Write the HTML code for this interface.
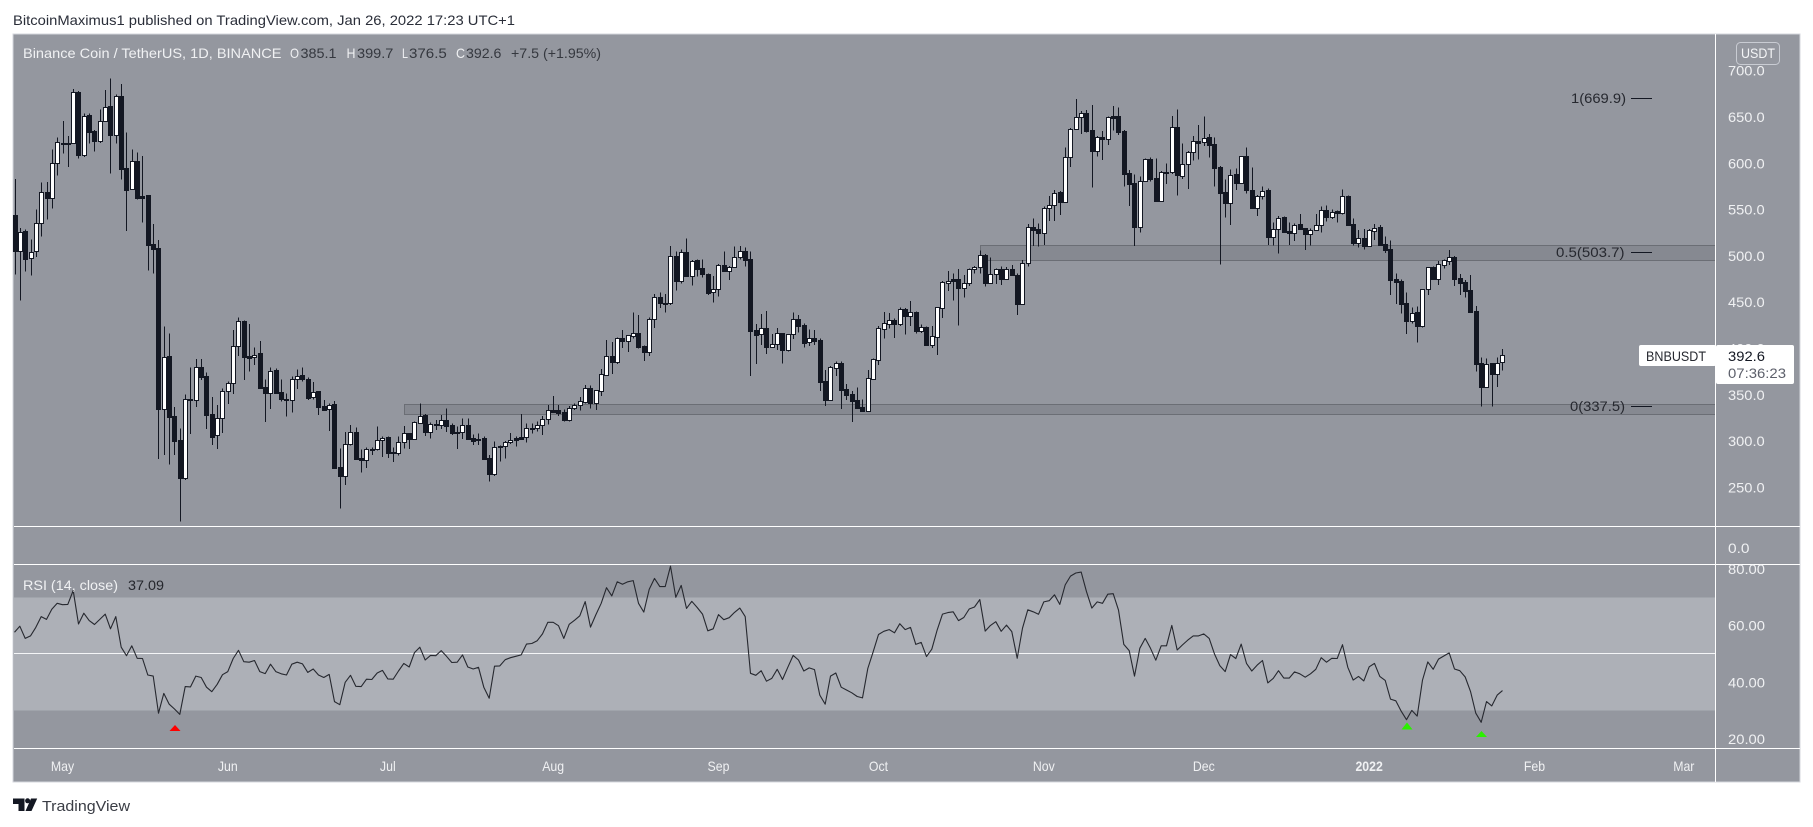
<!DOCTYPE html>
<html lang="en">
<head>
<meta charset="utf-8">
<title>BNBUSDT 1D chart with RSI</title>
<style>
html,body{margin:0;padding:0;background:#fff;width:1813px;height:827px;overflow:hidden}
svg{position:absolute;left:0;top:0;display:block}
text{font-family:"Liberation Sans",sans-serif;font-size:14px}
</style>
</head>
<body>
<svg id="chart" xmlns="http://www.w3.org/2000/svg" width="1813" height="827" viewBox="0 0 1813 827">
  <text x="13" y="25" fill="#2a2e39" textLength="502" lengthAdjust="spacingAndGlyphs">BitcoinMaximus1 published on TradingView.com, Jan 26, 2022 17:23 UTC+1</text>
  <rect x="13" y="34" width="1787" height="748" fill="#94979f" stroke="#d5d7de" stroke-width="1"/>
  <rect x="14" y="597.5" width="1702" height="113" fill="#adb0b7"/>
  <rect x="404.5" y="404.5" width="1311" height="10" fill="#868991" stroke="#6b6e75" stroke-width="1"/>
  <rect x="980.5" y="245.5" width="735" height="15" fill="#868991" stroke="#6b6e75" stroke-width="1"/>
  <g id="candles" shape-rendering="crispEdges"></g>
  <g id="grid-lines" shape-rendering="crispEdges">
    <line x1="14" x2="1716" y1="653.5" y2="653.5" stroke="#f4f5f7"/>
    <line x1="14" x2="1800" y1="526.5" y2="526.5" stroke="#fff"/>
    <line x1="14" x2="1800" y1="564.5" y2="564.5" stroke="#fff"/>
    <line x1="14" x2="1800" y1="748.5" y2="748.5" stroke="#fff"/>
    <line x1="1715.5" x2="1715.5" y1="34" y2="782" stroke="#fff"/>
  </g>
  <polyline id="rsi-line" fill="none" stroke="#26282f" stroke-width="1.1" stroke-linejoin="round"/>
  <g id="price-ticks"></g>
  <g id="rsi-ticks"></g>
  <g id="time-ticks"></g>

  <g>
    <text x="23" y="58" fill="#f0f1f3" textLength="258.5" lengthAdjust="spacingAndGlyphs">Binance Coin / TetherUS, 1D, BINANCE</text>
    <text x="290" y="58" fill="#f0f1f3" textLength="9" lengthAdjust="spacingAndGlyphs">O</text>
    <text x="300.5" y="58" fill="#35383f" textLength="36" lengthAdjust="spacingAndGlyphs">385.1</text>
    <text x="346.5" y="58" fill="#f0f1f3" textLength="9" lengthAdjust="spacingAndGlyphs">H</text>
    <text x="357" y="58" fill="#35383f" textLength="36.4" lengthAdjust="spacingAndGlyphs">399.7</text>
    <text x="402" y="58" fill="#f0f1f3" textLength="6" lengthAdjust="spacingAndGlyphs">L</text>
    <text x="409" y="58" fill="#35383f" textLength="37.8" lengthAdjust="spacingAndGlyphs">376.5</text>
    <text x="456" y="58" fill="#f0f1f3" textLength="9" lengthAdjust="spacingAndGlyphs">C</text>
    <text x="466" y="58" fill="#35383f" textLength="35.4" lengthAdjust="spacingAndGlyphs">392.6</text>
    <text x="511" y="58" fill="#35383f" textLength="90" lengthAdjust="spacingAndGlyphs">+7.5 (+1.95%)</text>
  </g>

  <g>
    <text x="23" y="590" fill="#f0f1f3" textLength="95" lengthAdjust="spacingAndGlyphs">RSI (14, close)</text>
    <text x="128" y="590" fill="#25272d" textLength="36" lengthAdjust="spacingAndGlyphs">37.09</text>
  </g>

  <rect x="1736.5" y="42.5" width="43" height="22" rx="4" fill="none" stroke="#c9ccd3"/>
  <text x="1741" y="58" fill="#f4f5f7" textLength="34" lengthAdjust="spacingAndGlyphs">USDT</text>

  <g>
    <text x="1571" y="103" fill="#26282f" textLength="55" lengthAdjust="spacingAndGlyphs">1(669.9)</text>
    <line x1="1631" x2="1652" y1="98.5" y2="98.5" stroke="#131722" shape-rendering="crispEdges"/>
    <text x="1556" y="257" fill="#26282f" textLength="68.5" lengthAdjust="spacingAndGlyphs">0.5(503.7)</text>
    <line x1="1631" x2="1652" y1="252.5" y2="252.5" stroke="#131722" shape-rendering="crispEdges"/>
    <text x="1570" y="411" fill="#26282f" textLength="55" lengthAdjust="spacingAndGlyphs">0(337.5)</text>
    <line x1="1631" x2="1652" y1="406.5" y2="406.5" stroke="#131722" shape-rendering="crispEdges"/>
  </g>

  <g>
    <rect x="1639" y="345" width="77" height="21" rx="2" fill="#fff"/>
    <rect x="1716" y="345" width="78" height="39" rx="2" fill="#fff"/>
    <text x="1646" y="361" fill="#26282f" textLength="60" lengthAdjust="spacingAndGlyphs">BNBUSDT</text>
    <text x="1728" y="361" fill="#131722" textLength="37" lengthAdjust="spacingAndGlyphs">392.6</text>
    <text x="1728" y="378" fill="#5d606b" textLength="58" lengthAdjust="spacingAndGlyphs">07:36:23</text>
  </g>

  <polygon points="169.5,731 175,725 180.5,731" fill="#ff0000"/>
  <polygon points="1401.5,729.5 1407,722.5 1412.5,729.5" fill="#2bf000"/>
  <polygon points="1476,737 1481.5,731 1487,737" fill="#2bf000"/>

  <g>
    <path d="M13 798.5H24.5V811H18.5V804H13ZM25.5 811L31 798.5H37.2L31.5 811Z" fill="#131722"/>
    <circle cx="27.6" cy="800.8" r="2.5" fill="#131722"/>
    <text x="42" y="811" fill="#3a3d45" font-size="15" style="font-size:15px" textLength="88" lengthAdjust="spacingAndGlyphs">TradingView</text>
  </g>
</svg>
<script>
// Candle series, one value per day starting 9 days before 1 May 2021.
const firstDay = -9;
const opens = [
544,505.6,526.8,497.3,504.8,535,568.6,563,600,622,
621.5,621.5,676.6,609,652,634.8,624.4,646,661.8,631,
672.6,594.5,571.8,603,564.6,565.3,512.4,508.5,335,392,
327,300.8,260.5,346,344,379.7,370,329,306.2,325.3,
353.8,362.4,402.4,429.4,391.6,390.5,394.8,358,352.3,376.8,
352.7,346,344,366.7,371.4,367,347.3,353.8,337.9,334.3,
340,271.7,262.7,296.5,309.5,281.4,280,291,291,300.8,
304.4,288,287.5,298.7,308.8,302.6,320,328.2,310.2,318.8,
317,322.8,317,309.8,309.5,317.4,303,300.8,303.4,281.4,
264.8,294.4,294.4,299.4,303,304,304,314.5,314.5,317.8,
323.5,333.2,333.2,331,322.8,335.4,338.6,342.6,357.4,341.5,
354.5,371.8,391.6,385.8,411,408.5,413.9,416.4,402.7,396.6,
431.5,455.3,449,448.8,499.6,472.6,503.9,478.7,495.6,486.6,
480.1,460.7,464,489.8,484,488.4,498.5,505,496.7,419.6,
415.3,422.2,402,405.2,416.4,398.8,415.3,431.9,425.4,407.4,
411,409.2,364.9,344.4,379.3,384.4,356.3,350.5,344,336.5,
333,367.4,388,421.4,426.8,430.8,426.8,442.7,435.5,439.4,
419.3,423.2,404.2,412.8,444.1,471.1,474.7,474.7,465.7,471.1,
485.5,488.4,501.4,471.1,480.1,485.5,475.4,485.5,479,448,
492,530.9,528.7,525.1,551.4,554.6,569,558.6,607.2,637.4,
649.7,654,635.6,613.7,628.8,626.6,650.8,651.1,634.9,589.2,
578.4,531.6,581.3,604.7,583.8,559.7,591,590.3,638.9,586.7,
599.6,611.9,624.1,622.7,628.1,620.9,596,568.7,557.5,588.1,
579.1,607.9,571.2,552.1,565.1,570.8,520.8,528.7,541.7,526.6,
525.1,534.1,529.8,524,528.4,533.8,549.2,542.4,548.2,546.7,
564.7,534.5,514.3,519.4,511.1,527.3,531.2,512.5,507.1,474.7,
472.9,448.8,430.1,439.1,424.7,463.9,488,475.4,489.8,494.9,
498.8,475.8,471.8,463.2,440.5,384,358.8,384,372.1,385.1];
const highs = [
583,530,528.6,517.8,550,579,580,615,628,645.6,
629.4,680,678,654,654,636,658,679,691.7,674.4,
685.6,633,615,611.8,607.8,566,534.4,517,424,416.4,
336.8,313.8,350.5,379.3,388.7,388.7,374.3,347.6,339,357,
364.6,420,433.7,430,426.5,401.3,408,366.7,379.7,378.6,
366.7,351.6,369.6,377.5,379.7,368.9,363.8,354,344.4,340.8,
343.3,292.2,310,317.4,314.5,291,293,293,316,304.8,
305,292.9,304.8,316.3,309,321,340.8,329,320.3,322.8,
328.2,335.4,319,315.6,324.6,324.6,307.3,308.4,304.8,285,
299.4,295,300,309,304.8,329.3,319.2,319,321,327,
339,348.7,339,334.3,338,340.8,347.6,360.6,360,355,
377.9,409.2,407,412,420,414.5,438.7,436.2,403,433.3,
458.9,460.7,458.9,510.7,504.6,507,519,495.6,496,496.3,
481,478.3,491.3,505,489,510,510.7,509.3,505,426.5,
437.3,440.5,415.7,422.2,417,415.6,438.7,436.2,427.2,420.7,
420,411,376.8,381,385.8,385.8,361.7,354,358,345,
376.8,389.4,424.3,439.4,438.4,432.6,444.5,443.8,451.3,440,
426,423.5,424.3,445,473,483.7,481,485.9,479.4,486.6,
489,505.7,502,498.5,486.5,488.4,488,490.2,481,495.6,
534.5,540.6,535.2,553.2,564.7,571.2,570,617.3,638,669.5,
656.5,657.6,663,629.5,634.9,650.5,661.9,660,636,592.8,
588.1,585.6,605.4,606,605.4,591.5,600,651.1,658.3,621.6,
613.5,629.5,641.4,650.4,631.7,628.1,597,582.7,593.5,594.6,
608,617.3,595.7,565.5,574.8,573,536.3,543.1,542.5,535.9,
535.2,545.3,530,529.8,545.3,553.2,554.6,550.3,549,571.9,
565,540.2,528,529.1,529,534.5,533.4,520.8,516.8,481.2,
474.7,460.7,444.5,445.2,464,488,488.5,494.5,496,506.4,
500,480.5,474,479.4,445.9,390.5,389.4,384.5,390.5,399.7];
const lows = [
480,451.7,483,478.6,499,520.7,539.4,551,586.6,610.7,
596,620.8,605,607,621.5,612.5,622,645,589,621.5,
582.6,527,571,561,535.8,484,481,280.7,285,275,
285,213,258,307.7,337,366,313,295.8,291.5,309,
340,351,392,366,375,382,357,320.6,334.7,351.6,
342.6,326.4,331,356.3,364.2,344.4,345,328.2,332.5,310.9,
270,227,252.6,295.4,279.6,266,271,285,290,283,
282,277.4,284.3,292,291.5,302,320,305.5,302.6,312,
313,310,306.6,291.5,302.3,301,296,295.8,279.6,256.2,
262.3,277.8,281.4,296.9,294,302,298.7,308.4,310.2,306.6,
318,330.7,327,321,321,333.6,333,340.8,335,333.6,
348.7,371.4,372.5,383.3,400.6,396.2,411,399.8,386.5,391.9,
422,443.8,438.7,447,462.5,470.4,477.6,467.9,477.6,476.9,
457.8,449.5,456,484,474,488,496.3,488.4,370.3,383.3,
403.8,394,400.6,398.4,384,396.6,410.3,417.1,401.3,402.7,
403.8,354,337.9,343.3,370.3,334.7,344.4,320.6,336,331.8,
333,367,382.2,411,421.8,411.4,424.3,415.3,424.3,416.4,
417,402.7,400.6,393,433,462,451.7,424.7,455,467.5,
481,481,466.8,471,469.7,468.6,475,479,436.2,447,
488.4,510.7,510,511.8,537.7,537.7,544.2,558,596,637,
631.7,633,573.7,607.2,603.6,619.8,635.3,630.6,574.8,553.9,
510.7,525.1,581,580.2,558.6,558.6,577.7,588.5,565,583,
572.3,602.9,604.3,618.7,606.5,574.8,490.6,541.3,533.4,571.2,
579,567.6,550.7,543.1,561.1,511.8,511.1,502.4,526,511.8,
516.1,528,506.4,511.1,528,525.1,537.4,539.9,536.3,544.9,
533.8,511.1,508.9,506.8,511,517.2,511.8,503.2,457.8,448.1,
438,415.7,427.2,406.3,422.5,457.8,475.4,468.6,486.2,490.2,
467.5,457.8,455,439.8,375,337.2,358,337.2,358.4,376.5];
const closes = [
505.6,526,497,504.5,535,568.6,563,600,622.6,620.4,
620.4,676.6,609,651,634,624.4,646,661,631,672.6,
593.8,571,603,562.5,562.8,511.7,507.7,335,391.2,326.4,
300.5,260.5,345.8,344,379.7,369.6,328.6,304.8,325.3,353.8,
362.4,402.4,429.4,390.8,390.1,393.4,357.7,352.3,376,352.3,
345.8,344,366.7,370.7,366.7,347,353.4,337.2,333.6,339.4,
271,262.7,296.5,309.5,280.7,280,291.1,291.5,300.8,303.7,
287.5,287.5,298.7,308.4,302.6,320.3,327.5,310.2,318,317,
322.4,316.7,308.8,309,317,302.3,300.5,302.6,280.7,264.8,
294,293.6,299.4,301.6,301.6,302.6,313.8,313,317.8,323.5,
333.2,331.8,330.7,322.8,335.4,338.6,343,357,341.5,354.8,
372.1,391.6,385.8,411,408,414.2,416.4,402,396.6,431.9,
455.3,448.8,448.4,499.6,472.6,503.9,478.7,494.9,485.9,480.1,
460.3,464,489.8,484,488.4,498.5,505,495.6,419.3,414.6,
421.8,402,405.2,416.4,398.4,415.3,431.5,424.7,406,411,
408.5,364.2,344.4,379.7,384,355.2,349.8,343.3,336.1,333,
367.8,388.3,421.8,427.2,430.4,426.8,442.3,435.5,439,418.9,
422.9,403.8,413.2,444.5,471.5,473.3,473.3,465.7,471.1,485.5,
488.4,501.4,471.1,480.1,485.5,475.4,485.5,479,448,492,
530.9,528.4,525.1,551.4,554.6,568.3,558.6,607.2,637.4,649.7,
654,634.9,613.7,628.8,626.6,649.7,649.3,633.8,588.8,577.7,
531.6,581.3,604.7,583.1,559.7,591,589.6,638.9,587.8,599.6,
611.9,623.8,622.3,627.7,620.2,595.3,568.3,557.5,587.8,579.1,
607.6,570.8,552.1,564.4,570.5,520.8,528.7,541.3,526.2,525.1,
533.8,529.1,524,528.4,533.8,549.2,542.4,547.8,546.7,564.4,
533.8,514,519,511.1,527.6,530.5,511.8,506.4,474,472.2,
448.1,429.7,438.7,424.7,463.9,487.7,475.4,490.9,495.2,498.5,
475.4,471.1,462.1,439.8,383.6,358.8,383.6,372.1,384.7,392.6];
const rsiValues = [
57.7,59.8,55.5,56.4,59.4,63.2,62.2,65.8,67.9,67.4,
67.5,72.4,60.6,64.4,61.8,60.4,62.2,64.1,58.9,63.2,
52.4,49.4,52.9,48.5,48.4,42.6,42.2,29.1,36.1,32.3,
30.6,28.7,38.5,38.4,42.2,41.7,38.3,36.7,39.3,42.7,
43.8,48.4,51.3,47.3,47.1,47.7,43.8,43.1,46.4,43.8,
43,42.6,46.4,47.1,46.5,43.5,44.7,42.6,41.7,42.8,
33.2,32.1,40,42.5,38.6,38.5,41.1,41,43.3,44.2,
41.2,41.1,44,46.7,45.4,50.5,52.4,47.9,49.5,49.4,
51.2,49.2,47,47.1,49.7,45.4,44.7,45.3,38.3,34.4,
45.7,45.8,48,48.7,49.2,49.7,53.5,53.7,54.7,57.1,
61.2,61.2,60,55.5,60.5,61.9,63.5,68.5,59.5,63.8,
67.9,73.4,70.5,75.5,
74.6,75.5,75.9,67.9,64.8,72.8,76.7,73.8,73.8,81,
70,74.2,66.1,68.6,66.4,64.1,58.2,58.9,63.9,62.1,
62.8,64.7,66.2,63.2,43.2,42.5,44.1,40.4,41.4,44.6,
41,45.3,49.5,47.9,44,45.1,44.5,35.5,32.3,42.2,
43.3,38.3,37.3,36.3,35,34.5,44.9,50.8,56.9,58,
58.6,57.5,60.7,58.6,59.4,53.4,54.1,49.1,51.7,58.5,
64.1,64.6,64.9,61.8,62.9,65.9,66.6,69.2,58.1,60.1,
61.4,58,60.2,57.9,48.5,59.1,65.6,64.9,64,68.4,
68.8,70.9,67.5,74.4,77.5,78.6,78.9,72,66.2,68.4,
67.9,71.1,71.3,65.5,53.4,51.2,42.2,52,55.5,52,
47.8,52.9,52.9,60.1,51.4,53.2,54.9,56.4,56.4,57.1,
55.5,50,45.9,
43.8,49.8,48.4,53.5,46.7,44,46.1,47.7,39.8,41.4,
44.1,41.5,41.5,43.7,43,41.8,43,44.6,48.7,47.1,
48.5,48.4,53.3,45.3,40.8,42.1,40.5,45.5,46.7,42.1,
40.7,34.1,33.5,29.8,26.8,30.1,28.1,40.8,47.2,44.6,
48.2,49.3,50.4,44.7,44.1,41.9,36.8,29.1,25.9,33.2,
31.7,35.5,37.09];
const priceTicks = [700,650,600,550,500,450,400,350,300,250];
const rsiTicks = [80,60,40,20];
const timeLabels = ['May','Jun','Jul','Aug','Sep','Oct','Nov','Dec','2022','Feb','Mar'];
const timeDays = [0,31,61,92,123,153,184,214,245,276,304];

const SVGNS = 'http://www.w3.org/2000/svg';
function xScale(day) { return 62.5 + 5.3333 * day; }
function priceScale(p) { return 70.7 + (700 - p) * 0.926; }
function rsiScale(r) { return 739 - (r - 20) * 2.8333; }
function make(tag, parent) {
  const el = document.createElementNS(SVGNS, tag);
  parent.appendChild(el);
  return el;
}

const candleGroup = document.getElementById('candles');
opens.forEach(function (open, i) {
  const cx = Math.round(xScale(firstDay + i)) + 0.5;
  const up = closes[i] >= open;
  const top = Math.round(priceScale(Math.max(open, closes[i])));
  const bottom = Math.round(priceScale(Math.min(open, closes[i])));
  const wick = make('line', candleGroup);
  
  
  wick.setAttribute('x1', cx);
  wick.setAttribute('x2', cx);
  wick.setAttribute('y1', priceScale(highs[i]));
  wick.setAttribute('y2', priceScale(lows[i]));
  wick.setAttribute('stroke', '#131722');
  const body = make('rect', candleGroup);
  
  
  body.setAttribute('x', cx - 2);
  body.setAttribute('width', 4);
  body.setAttribute('y', top + 0.5);
  body.setAttribute('height', Math.max(bottom - top, 1));
  body.setAttribute('fill', up ? '#ffffff' : '#131722');
  body.setAttribute('stroke', '#131722');
});

document.getElementById('rsi-line').setAttribute('points', rsiValues.map(function (r, i) {
  return xScale(firstDay + i).toFixed(1) + ',' + rsiScale(r).toFixed(1);
}).join(' '));

const priceGroup = document.getElementById('price-ticks');
priceTicks.forEach(function (p) {
  const t = make('text', priceGroup);
  
  
  t.setAttribute('x', 1728);
  t.setAttribute('y', priceScale(p) + 5);
  t.setAttribute('fill', '#f0f1f3');
  t.setAttribute('textLength', 36.7);
  t.setAttribute('lengthAdjust', 'spacingAndGlyphs');
  t.textContent = p.toFixed(1);
});
const zeroLabel = make('text', priceGroup);


zeroLabel.setAttribute('x', 1728);
zeroLabel.setAttribute('y', 553);
zeroLabel.setAttribute('fill', '#f0f1f3');
zeroLabel.setAttribute('textLength', 21.5);
zeroLabel.setAttribute('lengthAdjust', 'spacingAndGlyphs');
zeroLabel.textContent = '0.0';

const rsiGroup = document.getElementById('rsi-ticks');
rsiTicks.forEach(function (r) {
  const t = make('text', rsiGroup);
  
  
  t.setAttribute('x', 1728);
  t.setAttribute('y', rsiScale(r) + 5);
  t.setAttribute('fill', '#f0f1f3');
  t.setAttribute('textLength', 37);
  t.setAttribute('lengthAdjust', 'spacingAndGlyphs');
  t.textContent = r.toFixed(2);
});

const timeGroup = document.getElementById('time-ticks');
timeLabels.forEach(function (label, i) {
  const t = make('text', timeGroup);
  
  
  t.setAttribute('x', xScale(timeDays[i]));
  t.setAttribute('y', 771);
  t.setAttribute('fill', '#f0f1f3');
  t.setAttribute('text-anchor', 'middle');
  if (label === '2022') { t.setAttribute('font-weight', 'bold'); }
  t.textContent = label;
  t.setAttribute('textLength', (t.getComputedTextLength() * 0.88).toFixed(1));
  t.setAttribute('lengthAdjust', 'spacingAndGlyphs');
});
</script>
</body>
</html>
